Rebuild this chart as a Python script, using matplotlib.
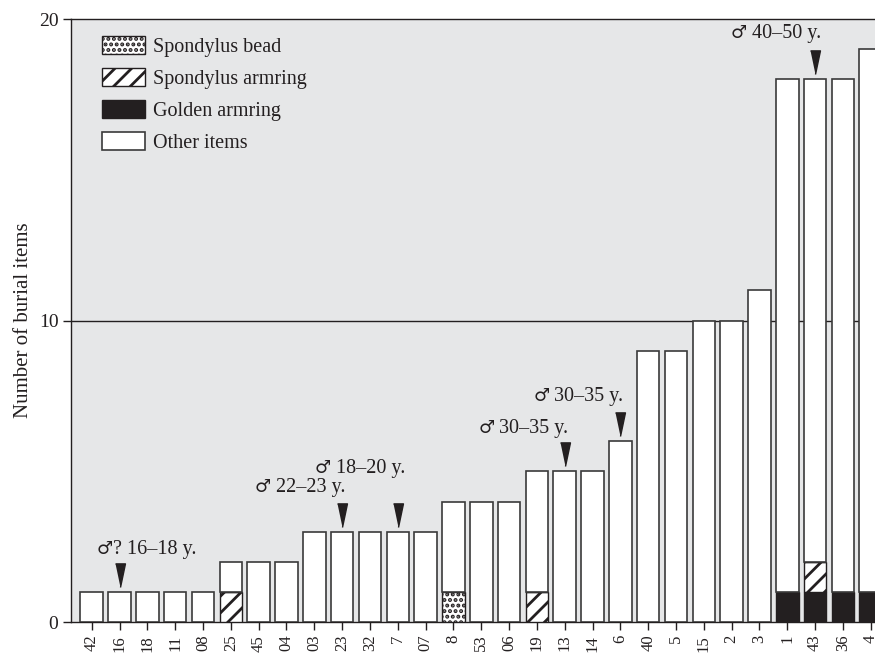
import matplotlib
matplotlib.use("Agg")
import matplotlib.pyplot as plt
import numpy as np
from matplotlib.offsetbox import TextArea, HPacker, AnnotationBbox

# grave numbers, ordered by number of burial items
graves = ["42", "16", "18", "11", "08", "25", "45", "04", "03", "23", "32", "7", "07",
          "8", "53", "06", "19", "13", "14", "6", "40", "5", "15", "2", "3", "1", "43",
          "36", "4"]
# total items per grave
total = [1, 1, 1, 1, 1, 2, 2, 2, 3, 3, 3, 3, 3,
         4, 4, 4, 5, 5, 5, 6, 9, 9, 10, 10, 11, 18, 18,
         18, 19]
# special items per grave
golden = [0, 0, 0, 0, 0, 0, 0, 0, 0, 0, 0, 0, 0,
          0, 0, 0, 0, 0, 0, 0, 0, 0, 0, 0, 0, 1, 1,
          1, 1]
spond_ring = [0, 0, 0, 0, 0, 1, 0, 0, 0, 0, 0, 0, 0,
              0, 0, 0, 1, 0, 0, 0, 0, 0, 0, 0, 0, 0, 1,
              0, 0]
spond_bead = [0, 0, 0, 0, 0, 0, 0, 0, 0, 0, 0, 0, 0,
              1, 0, 0, 0, 0, 0, 0, 0, 0, 0, 0, 0, 0, 0,
              0, 0]

# sexed/aged individuals: grave, sign, age
marked = ["16", "23", "7", "13", "6", "43"]
marked_sign = ["\u2642", "\u2642", "\u2642", "\u2642", "\u2642", "\u2642"]
marked_text = ["? 16\u201318 y.", " 22\u201323 y.", " 18\u201320 y.",
               " 30\u201335 y.", " 30\u201335 y.", " 40\u201350 y."]
# label offsets from the arrowed bar (x, y in data units)
text_dx = [0.98, -1.51, -1.35, -1.49, -1.51, -1.42]
text_dy = [1.40, 1.48, 2.11, 1.44, 1.47, 1.53]

INK = "#231f20"
EDGE = "#3a3a3a"
FONT = ["Liberation Serif", "DejaVu Sans"]

plt.rcParams["font.family"] = FONT
plt.rcParams["hatch.linewidth"] = 2.0
plt.rcParams["hatch.color"] = INK

total = np.array(total)
golden = np.array(golden)
spond_ring = np.array(spond_ring)
spond_bead = np.array(spond_bead)
other = total - golden - spond_ring - spond_bead
x = np.arange(len(graves))
w = 0.81

fig = plt.figure(figsize=(8.75, 6.6), dpi=100)
ax = fig.add_axes([0.081, 0.0571, 0.938, 0.9141])
ax.set_facecolor("#e6e7e8")

bottom = np.zeros(len(graves))
ax.bar(x, golden, w, bottom=bottom, color=INK, edgecolor=INK, lw=1.0, zorder=3,
       label="Golden armring")
bottom += golden
ax.bar(x, spond_ring, w, bottom=bottom, color="white", edgecolor=INK, hatch="//",
       lw=1.0, zorder=3, label="Spondylus armring")
bottom += spond_ring
ax.bar(x, spond_bead, w, bottom=bottom, color="white", edgecolor=INK, hatch="...",
       lw=1.0, zorder=3, label="Spondylus bead")
bottom += spond_bead
ax.bar(x, other, w, bottom=bottom, color="white", edgecolor=EDGE, lw=1.2, zorder=3,
       label="Other items")

# line at 10
ax.axhline(10, color=INK, lw=1.0, zorder=1)

# arrows and labels above the sexed graves
tri = [(-0.21, 1.0), (0.21, 1.0), (0.0, 0.0)]
for g, s, t, dx, dy in zip(marked, marked_sign, marked_text, text_dx, text_dy):
    i = graves.index(g)
    ax.plot(x[i], total[i] + 0.17, marker=tri, markersize=34, color=INK,
            ls="none", zorder=4, clip_on=False)
    box = HPacker(children=[
        TextArea(s, textprops=dict(fontsize=13, color=INK, family="DejaVu Sans")),
        TextArea(t, textprops=dict(fontsize=14.5, color=INK, family=FONT)),
    ], align="baseline", pad=0, sep=0)
    ab = AnnotationBbox(box, (x[i] + dx, total[i] + dy), xycoords="data",
                        frameon=False, box_alignment=(0.5, 0.5), pad=0, zorder=5)
    ax.add_artist(ab)

ax.set_xlim(-0.75, 28.75)
ax.set_ylim(0, 20)
ax.set_xticks(x)
ax.set_xticklabels(graves, rotation=90, fontsize=12, color=INK)
ax.set_yticks([0, 10, 20])
ax.set_yticklabels(["0", "10", "20"], fontsize=14, color=INK)
ax.tick_params(axis="both", direction="out", length=6, width=1.0, color=INK, pad=3)
ax.set_ylabel("Number of burial items", fontsize=15, color=INK, labelpad=4)

for s in ["left", "top", "bottom"]:
    ax.spines[s].set_color(INK)
    ax.spines[s].set_linewidth(1.0)
ax.spines["right"].set_visible(False)

h, l = ax.get_legend_handles_labels()
order = [2, 1, 0, 3]
leg = ax.legend([h[k] for k in order], [l[k] for k in order], loc="upper left",
                bbox_to_anchor=(0.028, 0.985), frameon=False, fontsize=14.5,
                handlelength=2.15, handleheight=1.0, labelspacing=0.55,
                handletextpad=0.4, borderaxespad=0)
for t in leg.get_texts():
    t.set_color(INK)

fig.savefig("out.png", dpi=100)
